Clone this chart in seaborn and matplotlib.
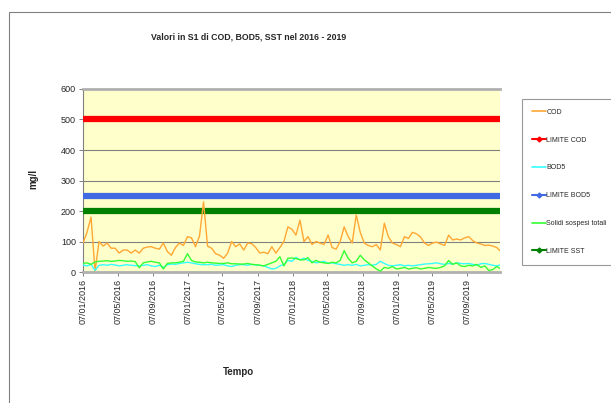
import pandas as pd
import matplotlib
matplotlib.use("Agg")
import matplotlib.pyplot as plt
from matplotlib.lines import Line2D
from matplotlib.patches import Rectangle
import seaborn as sns

# valori (campioni ogni 2 settimane)
start_date = "2016-01-07"
cod = [95, 130, 180, 3, 100, 85, 95, 78, 78, 62,
       72, 72, 62, 72, 62, 78, 82, 83, 78, 75,
       95, 67, 55, 80, 95, 87, 116, 112, 83, 118,
       230, 85, 78, 60, 55, 45, 62, 100, 83, 92,
       72, 95, 93, 80, 62, 65, 60, 83, 62, 80,
       100, 148, 140, 121, 170, 100, 116, 90, 100, 95,
       90, 121, 80, 75, 100, 148, 116, 95, 187, 130,
       95, 87, 83, 90, 72, 160, 116, 95, 90, 83,
       116, 110, 130, 125, 115, 95, 87, 95, 98, 92,
       87, 121, 105, 108, 105, 112, 116, 103, 95, 92,
       87, 88, 85, 80, 67]
bod5 = [23, 20, 25, 5, 22,
        24, 22, 25, 23, 20, 22, 24, 22, 21, 20,
        22, 24, 20, 18, 22, 15,
        24, 26, 25, 28, 30, 32, 30, 27, 25, 24,
        24, 25, 22, 23, 24, 20, 18, 22, 24, 24, 22, 25, 23, 22, 20, 15, 10, 12, 20, 25,
        38, 35, 48, 40, 45, 38, 35, 30, 32, 35,
        28, 30, 27, 25, 22, 24, 22, 25, 20, 22,
        24, 22, 25, 35, 28, 22, 20, 22, 24, 20,
        22, 20, 22, 24, 26, 27, 28, 30, 27, 25,
        28, 26, 30, 28, 27, 28, 25, 22, 27, 28, 25, 22, 20, 24]
sst = [28, 30, 25, 33, 35,
       36, 37, 35, 36, 38, 37, 35, 36, 34, 14,
       30, 33, 35, 32, 30, 10,
       28, 30, 30, 32, 35, 60, 38, 33, 32, 30,
       32, 30, 29, 28, 28, 30, 27, 27, 26, 26, 28, 25, 24, 22, 20, 25, 30, 35, 50, 20,
       45, 46, 44, 40, 40, 47, 30, 38, 32, 30,
       28, 32, 30, 38, 70, 45, 30, 35, 55, 40,
       30, 20, 10, 3, 15, 12, 18, 10, 12, 15,
       10, 12, 14, 10, 12, 15, 13, 12, 15, 20,
       38, 25, 30, 20, 18, 22, 20, 25, 15, 20, 5, 8, 18, 10]
limite_cod = 500
limite_bod5 = 250
limite_sst = 200

tick_labels = ["07/01/2016", "07/05/2016", "07/09/2016", "07/01/2017",
               "07/05/2017", "07/09/2017", "07/01/2018", "07/05/2018",
               "07/09/2018", "07/01/2019", "07/05/2019", "07/09/2019"]

dates = pd.date_range(start_date, periods=len(cod), freq="14D")
df = pd.DataFrame({"data": dates, "COD": cod, "BOD5": bod5, "SST": sst})
df["LIMITE COD"] = limite_cod
df["LIMITE BOD5"] = limite_bod5
df["LIMITE SST"] = limite_sst

sns.set_style("white")
plt.rcParams["font.family"] = ["Liberation Sans", "DejaVu Sans"]

fig = plt.figure(figsize=(6.11, 4.03), dpi=100)
fig.patches.append(Rectangle((9 / 611, -0.1), 1.2, 1 - 12 / 403 + 0.1,
                             transform=fig.transFigure, fill=False,
                             edgecolor="#808080", linewidth=0.8))
ax = fig.add_axes([83 / 611, 1 - 272 / 403, 417 / 611, 183 / 403])
ax.set_facecolor("#FFFFCC")

colori = {"COD": "#FFA733", "LIMITE COD": "#FF0000", "BOD5": "#33FFFF",
          "LIMITE BOD5": "#4169E1", "SST": "#33FF33", "LIMITE SST": "#008000"}

for lim in ["LIMITE COD", "LIMITE BOD5", "LIMITE SST"]:
    sns.lineplot(data=df, x="data", y=lim, ax=ax, color=colori[lim],
                 linewidth=4.5, zorder=3)
for s in ["COD", "BOD5", "SST"]:
    sns.lineplot(data=df, x="data", y=s, ax=ax, color=colori[s],
                 linewidth=1.0, zorder=4)

for v in [100, 200, 300, 400, 500]:
    ax.axhline(v, color="#808080", linewidth=0.8, zorder=1)

ax.set_ylim(0, 600)
ax.set_yticks(range(0, 601, 100))
ax.set_xlim(pd.Timestamp("2016-01-07"), pd.Timestamp("2019-12-30"))
tick_dates = pd.to_datetime(tick_labels, format="%d/%m/%Y")
ax.set_xticks(tick_dates)
ax.set_xticklabels(tick_labels, rotation=90)
ax.tick_params(axis="both", labelsize=6.5, length=3, width=0.7,
               color="#808080", bottom=True, left=True, pad=2)

ax.spines["right"].set_visible(False)
ax.spines["top"].set_color("#B0B0B0")
ax.spines["top"].set_linewidth(2)
ax.spines["bottom"].set_color("#B0B0B0")
ax.spines["bottom"].set_linewidth(2)
ax.spines["left"].set_color("#808080")
ax.spines["left"].set_linewidth(0.8)

ax.set_xlabel("")
ax.set_ylabel("")
fig.text(238 / 611, 1 - 372 / 403, "Tempo", fontsize=7, fontweight="bold",
         ha="center", va="center")
fig.text(33 / 611, 1 - 179 / 403, "mg/l", fontsize=7, fontweight="bold",
         rotation=90, ha="center", va="center")
fig.text(249 / 611, 1 - 37 / 403, "Valori in S1 di COD, BOD5, SST nel 2016 - 2019",
         fontsize=6.3, fontweight="bold", ha="center", va="center")

handles = [
    Line2D([], [], color=colori["COD"], lw=1.2),
    Line2D([], [], color=colori["LIMITE COD"], lw=1.5, marker="D", markersize=2.5),
    Line2D([], [], color=colori["BOD5"], lw=1.2),
    Line2D([], [], color=colori["LIMITE BOD5"], lw=1.5, marker="D", markersize=2.5),
    Line2D([], [], color=colori["SST"], lw=1.2),
    Line2D([], [], color=colori["LIMITE SST"], lw=1.5, marker="D", markersize=2.5),
]
labels = ["COD", "LIMITE COD", "BOD5", "LIMITE BOD5", "Solidi sospesi totali", "LIMITE SST"]
leg = fig.legend(handles, labels, loc="upper left",
                 bbox_to_anchor=(522 / 611, 1 - 99 / 403), fontsize=5,
                 frameon=True, fancybox=False, handlelength=2.0,
                 handletextpad=0.1, labelspacing=3.0, borderpad=1.4,
                 borderaxespad=0)
leg.get_frame().set_edgecolor("#808080")
leg.get_frame().set_linewidth(0.8)

fig.savefig("out.png", dpi=100, facecolor="white")
